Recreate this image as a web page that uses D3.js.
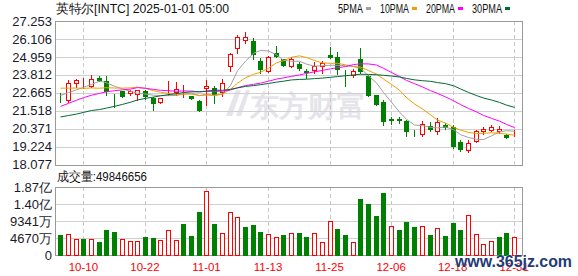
<!DOCTYPE html>
<html>
<head>
<meta charset="utf-8">
<script src="https://cdn.jsdelivr.net/npm/d3@7"></script>
<style>
body { margin: 0; background: #fff; }
svg { display: block; }
text { font-family: "Liberation Sans", Arial, sans-serif; }
</style>
</head>
<body>
<svg width="578" height="276"></svg>
<script>
// trading days shown
const dates = ["10-07","10-08","10-09","10-10","10-11","10-14","10-15","10-16","10-17","10-18",
  "10-21","10-22","10-23","10-24","10-25","10-28","10-29","10-30","10-31","11-01",
  "11-04","11-05","11-06","11-07","11-08","11-11","11-12","11-13","11-14","11-15",
  "11-18","11-19","11-20","11-21","11-22","11-25","11-26","11-27","11-29","12-02",
  "12-03","12-04","12-05","12-06","12-09","12-10","12-11","12-12","12-13","12-16",
  "12-17","12-18","12-19","12-20","12-23","12-24","12-26","12-27","12-30","12-31"];

const opens = [22.42,22.22,23.28,23.28,23.10,23.60,23.43,22.42,22.75,22.65,
  22.60,22.75,22.33,22.08,22.72,22.72,22.88,22.43,22.15,22.95,
  22.97,22.70,24.35,25.50,26.06,26.00,24.70,24.08,25.20,24.80,
  24.38,24.52,24.05,24.10,24.38,25.10,24.97,23.95,23.82,24.80,
  23.72,22.50,22.05,20.97,20.96,20.84,20.12,20.00,20.52,20.22,
  20.63,20.45,19.50,18.99,19.56,20.20,20.27,20.22,19.96,20.03];
const highs = [22.62,23.45,23.52,23.60,23.80,23.75,23.75,22.58,22.78,22.82,
  22.87,22.85,22.38,22.35,23.40,23.35,23.19,22.48,22.20,23.50,
  23.08,23.52,25.22,26.38,26.55,26.17,24.90,25.02,25.65,24.85,
  24.98,24.60,24.17,24.65,24.70,25.62,25.30,24.13,24.17,25.50,
  23.78,22.55,22.20,21.12,21.10,20.95,20.30,20.88,20.77,21.05,
  20.72,20.62,19.67,19.65,20.30,20.45,20.63,20.56,20.05,20.30];
const lows = [22.07,22.08,23.03,22.96,23.05,23.40,22.53,21.73,22.40,22.55,
  22.22,22.25,21.58,21.98,22.55,22.50,22.41,22.28,21.50,21.90,
  21.98,22.45,24.05,25.22,25.85,24.85,23.93,23.96,24.98,24.35,
  24.30,24.10,23.60,23.95,23.95,24.88,23.85,23.10,23.65,23.92,
  22.45,21.90,20.63,20.65,20.70,19.93,19.88,19.88,20.20,20.00,
  20.35,19.15,18.96,18.86,19.50,20.05,20.20,20.10,19.75,19.90];
const closes = [22.38,23.28,23.50,23.28,23.55,23.45,22.75,22.38,22.43,22.79,
  22.85,22.47,22.00,22.33,22.74,22.93,22.88,22.33,21.55,23.12,
  22.60,23.28,25.12,26.22,26.20,25.12,24.20,24.93,25.03,24.42,
  24.80,24.22,24.00,24.38,24.56,24.95,24.20,23.90,24.07,24.05,
  22.50,21.95,20.84,20.94,20.92,20.20,20.10,20.67,20.36,20.77,
  20.47,19.27,19.06,19.46,20.20,20.37,20.45,20.35,19.82,20.05];
const volumes = [55.3e6,58.0e6,44.0e6,44.0e6,44.0e6,37.0e6,69.0e6,63.6e6,44.0e6,38.7e6,
  38.7e6,50.7e6,47.0e6,41.5e6,69.0e6,41.5e6,85.7e6,52.5e6,117e6,177e6,
  85.7e6,60.0e6,119e6,105e6,78.0e6,83.0e6,63.6e6,58.0e6,49.7e6,55.3e6,
  60.0e6,60.0e6,50.7e6,60.0e6,35.0e6,93.0e6,72.0e6,55.3e6,35.0e6,154.8e6,
  141e6,107.8e6,171e6,79.0e6,69.0e6,91.0e6,77.0e6,79.0e6,55.0e6,74.6e6,
  52.5e6,88.0e6,69.0e6,109.6e6,57.0e6,29.5e6,37.8e6,49.7e6,60.8e6,49846656];

// closes before the visible window, needed for the moving averages
const priorCloses = [20.6,20.7,20.1,19.9,21.7,19.9,19.0,18.7,18.6,18.6,
  19.3,19.6,19.9,20.5,21.0,20.8,20.9,21.4,21.8,21.0,
  23.3,23.4,23.5,23.3,23.6,22.4,22.6,22.5,22.6];

const priceTicks = [18.077,19.224,20.371,21.518,22.665,23.812,24.959,26.106,27.253];
const volTicks = [0,46.70e6,93.41e6,140.1e6,186.8e6];
const labelDates = ["10-10","10-22","11-01","11-13","11-25","12-06","12-18","12-31"];
const maPeriods = [5,10,20,30];
const maColors = ["#a0a0a0","#f0a000","#ff00ff","#006a33"];

const UP = "#ff0000", DOWN = "#008000";
const svg = d3.select("svg");
const L = 56, R = 522, pTop = 21, pBot = 164.5, vTop = 187, vBot = 255;

const x = d3.scaleBand().domain(dates).range([56.5, 518]);
const cx = d => Math.round(x(d) + x.bandwidth() / 2);
const y = d3.scaleLinear().domain([18.077, 27.253]).range([pBot, pTop]);
const yv = d3.scaleLinear().domain([0, 186.8e6]).range([vBot, vTop]);

const data = dates.map((d, i) => ({
  date: d, o: opens[i], h: highs[i], l: lows[i], c: closes[i], v: volumes[i],
  prev: i ? closes[i - 1] : priorCloses[priorCloses.length - 1]
}));

// watermark
svg.append("text")
  .attr("x", 250).attr("y", 116)
  .attr("font-family", "Noto Sans CJK SC")
  .attr("font-size", 29).attr("font-weight", "bold")
  .attr("fill", "#e4e4ea")
  .text("东方财富");
svg.append("path")
  .attr("d", "M226,116 L236,90 L241,90 L232,116 Z M236,116 L246,90 L250,90 L241,116 Z")
  .attr("fill", "#e4e4ea");

// grid
const grid = svg.append("g");
grid.selectAll(".hp").data(priceTicks).enter().append("line")
  .attr("x1", L).attr("x2", R)
  .attr("y1", d => Math.round(y(d)) + 0.5).attr("y2", d => Math.round(y(d)) + 0.5)
  .attr("stroke", "#d0d0d0");
grid.selectAll(".hv").data(volTicks).enter().append("line")
  .attr("x1", L).attr("x2", R)
  .attr("y1", d => Math.round(yv(d)) + 0.5).attr("y2", d => Math.round(yv(d)) + 0.5)
  .attr("stroke", "#d0d0d0");
[[pTop, pBot], [vTop, vBot]].forEach(([a, b]) => {
  grid.selectAll(null).data(labelDates).enter().append("line")
    .attr("x1", d => cx(d) + 0.5).attr("x2", d => cx(d) + 0.5)
    .attr("y1", a).attr("y2", b)
    .attr("stroke", "#c8c8c8").attr("stroke-dasharray", "4,3");
});

// panel borders
[[pTop, pBot], [vTop, vBot]].forEach(([a, b]) => {
  svg.append("rect")
    .attr("x", L - 0.5).attr("y", Math.round(a) + 0.5)
    .attr("width", R - L + 1).attr("height", Math.round(b) - Math.round(a))
    .attr("fill", "none").attr("stroke", "#999");
});

// candles
const candle = svg.append("g").selectAll("g").data(data).enter().append("g");
candle.append("line")
  .attr("x1", d => cx(d.date) + 0.5).attr("x2", d => cx(d.date) + 0.5)
  .attr("y1", d => Math.round(y(d.h))).attr("y2", d => Math.round(y(d.l)) + 1)
  .attr("stroke", d => d.c >= d.o ? UP : DOWN);
candle.append("rect")
  .attr("x", d => cx(d.date) - 1.5).attr("width", 4)
  .attr("y", d => Math.round(y(Math.max(d.o, d.c))) + 0.5)
  .attr("height", d => Math.round(y(Math.min(d.o, d.c))) - Math.round(y(Math.max(d.o, d.c))))
  .attr("fill", d => d.c >= d.o ? "#fff" : DOWN)
  .attr("stroke", d => d.c >= d.o ? UP : DOWN);

// moving averages
const all = priorCloses.concat(closes);
const off = priorCloses.length;
maPeriods.forEach((n, k) => {
  const ma = dates.map((d, i) => ({ date: d, v: d3.mean(all.slice(off + i - n + 1, off + i + 1)) }));
  svg.append("path").datum(ma)
    .attr("fill", "none").attr("stroke", maColors[k]).attr("stroke-width", 1)
    .attr("d", d3.line().x(d => cx(d.date) + 0.5).y(d => y(d.v)));
});

// volume bars
svg.append("g").selectAll("rect").data(data).enter().append("rect")
  .attr("x", d => cx(d.date) - 1.5).attr("width", 4)
  .attr("y", d => Math.round(yv(d.v)) + 0.5)
  .attr("height", d => vBot - Math.round(yv(d.v)))
  .attr("fill", d => d.c >= d.prev ? "#fff" : DOWN)
  .attr("stroke", d => d.c >= d.prev ? UP : DOWN);

// axes
const yAxis = svg.append("g").attr("transform", `translate(${L},0)`)
  .call(d3.axisLeft(y).tickValues(priceTicks).tickSize(0).tickPadding(4).tickFormat(d3.format(".3f")));
const vAxis = svg.append("g").attr("transform", `translate(${L},0)`)
  .call(d3.axisLeft(yv).tickValues(volTicks).tickSize(0).tickPadding(4)
    .tickFormat(v => v >= 1e8 ? (v / 1e8).toFixed(2) + "亿" : v > 0 ? Math.round(v / 1e4) + "万" : "0"));
[yAxis, vAxis].forEach(g => {
  g.select(".domain").remove();
  g.selectAll("text").attr("font-family", "Liberation Sans, Noto Sans CJK SC")
    .attr("font-size", 13).attr("fill", "#1a1a2a");
});

const xAxis = svg.append("g").attr("transform", `translate(0,${vBot})`)
  .call(d3.axisBottom(x).tickValues(labelDates).tickSize(0).tickPadding(8));
xAxis.select(".domain").remove();
xAxis.selectAll("text").attr("font-size", 11.5).attr("fill", "#ff0000")
  .attr("font-family", "Liberation Sans");

// title and legend
svg.append("text").attr("x", 56).attr("y", 13)
  .attr("font-family", "Noto Sans CJK SC").attr("font-size", 12.5).attr("fill", "#111")
  .attr("textLength", 173).attr("lengthAdjust", "spacingAndGlyphs")
  .text("英特尔[INTC] 2025-01-01 05:00");

const legX = [338, 380, 426, 472], legW = [25, 29, 29, 30];
maPeriods.forEach((n, k) => {
  svg.append("text").attr("x", legX[k]).attr("y", 13)
    .attr("font-family", "Liberation Serif").attr("font-size", 12).attr("fill", "#111")
    .attr("textLength", legW[k]).attr("lengthAdjust", "spacingAndGlyphs")
    .text(n + "PMA");
  svg.append("rect").attr("x", legX[k] + legW[k] + 3).attr("y", 7)
    .attr("width", 5).attr("height", 3).attr("fill", maColors[k]);
});

svg.append("text").attr("x", 57).attr("y", 181)
  .attr("font-family", "Noto Sans CJK SC").attr("font-size", 12.5).attr("fill", "#111")
  .attr("textLength", 90).attr("lengthAdjust", "spacingAndGlyphs")
  .text("成交量:" + volumes[volumes.length - 1]);

// site watermark
svg.append("text").attr("x", 455).attr("y", 267)
  .attr("font-family", "Liberation Serif").attr("font-size", 17).attr("font-weight", "bold")
  .attr("fill", "#1f3c78").attr("stroke", "#fff").attr("stroke-width", 0.6).attr("paint-order", "stroke")
  .attr("textLength", 117).attr("lengthAdjust", "spacingAndGlyphs")
  .text("www.365jz.com");
</script>
</body>
</html>
